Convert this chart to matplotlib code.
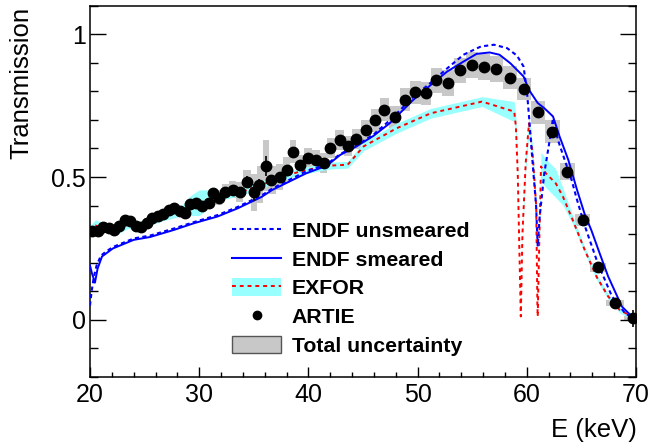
import numpy as np
import matplotlib
matplotlib.use("Agg")
import matplotlib.pyplot as plt
from matplotlib.lines import Line2D
from matplotlib.patches import Patch
from matplotlib.ticker import MultipleLocator

plt.rcParams['font.family'] = ['Liberation Sans', 'DejaVu Sans']

# ---------------- data ----------------
artie_E = [20.2, 20.7, 21.2, 21.7, 22.2, 22.7, 23.2, 23.7, 24.2, 24.7,
           25.2, 25.7, 26.2, 26.7, 27.2, 27.7, 28.2, 28.7, 29.2, 29.7,
           30.3, 30.9, 31.3, 31.8, 32.4, 33.05, 33.7, 34.4, 35.0, 35.5,
           36.1, 36.6, 37.4, 38.0, 38.6, 39.2, 40.0, 40.7, 41.4, 42.0,
           42.85, 43.65, 44.4, 45.3, 46.1, 46.95, 47.9, 48.85, 49.75, 50.8,
           51.7, 52.8, 53.9, 55.0, 56.1, 57.2, 58.5, 59.7, 61.0, 62.3,
           63.7, 65.15, 66.5, 68.07, 69.7]
artie_T = [0.31, 0.31, 0.325, 0.32, 0.315, 0.33, 0.35, 0.345, 0.33, 0.325,
           0.34, 0.355, 0.365, 0.37, 0.385, 0.39, 0.38, 0.375, 0.405, 0.41,
           0.40, 0.408, 0.443, 0.428, 0.449, 0.455, 0.449, 0.484, 0.446, 0.473,
           0.54, 0.49, 0.50, 0.525, 0.588, 0.543, 0.566, 0.56, 0.548, 0.60,
           0.628, 0.607, 0.634, 0.666, 0.699, 0.736, 0.71, 0.77, 0.797, 0.793,
           0.838, 0.83, 0.873, 0.893, 0.884, 0.877, 0.848, 0.808, 0.727, 0.659,
           0.519, 0.35, 0.184, 0.06, 0.005]
artie_stat = [0.008] * 27 + [0.02, 0.03, 0.02, 0.035] + [0.008] * 33 + [0.03]
artie_tot = [0.015] * 20 + [
    0.02, 0.02, 0.02, 0.025, 0.025, 0.03, 0.035, 0.04, 0.065, 0.065,
    0.09, 0.05, 0.047, 0.045, 0.04, 0.035, 0.035, 0.035, 0.035, 0.035,
    0.035, 0.035, 0.035, 0.035, 0.04, 0.04, 0.04, 0.04, 0.04, 0.04,
    0.045, 0.045, 0.045, 0.045, 0.045, 0.045, 0.04, 0.038, 0.04, 0.04,
    0.03, 0.02, 0.015, 0.01, 0.01]

endf_unsm_E = [20.0, 20.15, 20.35, 20.6, 21.0, 21.5, 22.1, 24.0, 25.5, 27.7,
               29.5, 31.7, 33.5, 35.7, 36.7, 39.8, 41.7, 42.9, 44.4, 46.0,
               47.5, 49.6, 51.2, 52.7, 54.2, 55.8, 57.0, 58.2, 59.1, 59.7,
               60.0, 60.25, 60.55, 60.85, 61.0, 61.15, 61.6, 62.1, 62.4, 62.85,
               63.6, 64.1, 64.6, 65.3, 66.5, 67.8, 69.0, 69.8]
endf_unsm_T = [0.05, 0.10, 0.15, 0.19, 0.225, 0.24, 0.255, 0.285, 0.295, 0.32,
               0.342, 0.367, 0.395, 0.435, 0.46, 0.52, 0.545, 0.58, 0.61, 0.65,
               0.70, 0.78, 0.83, 0.88, 0.928, 0.957, 0.963, 0.951, 0.925, 0.887,
               0.805, 0.69, 0.54, 0.40, 0.257, 0.35, 0.513, 0.63, 0.706, 0.63,
               0.545, 0.49, 0.42, 0.33, 0.198, 0.082, 0.023, 0.005]

endf_sm_E = [20.0, 20.2, 20.45, 20.7, 21.1, 22.1, 24.0, 25.5, 27.7, 29.5,
             31.7, 33.5, 35.7, 36.7, 39.8, 41.7, 42.9, 44.4, 46.0, 47.5,
             49.6, 51.2, 52.7, 54.2, 55.4, 56.6, 57.5, 58.5, 59.7, 60.2,
             61.0, 61.6, 62.4, 63.0, 63.8, 64.6, 65.3, 65.9, 66.7, 67.45,
             68.7, 69.8]
endf_sm_T = [0.19, 0.16, 0.13, 0.18, 0.222, 0.25, 0.28, 0.29, 0.315, 0.338,
             0.362, 0.39, 0.43, 0.455, 0.513, 0.54, 0.577, 0.607, 0.645, 0.69,
             0.77, 0.822, 0.869, 0.904, 0.931, 0.936, 0.928, 0.898, 0.852, 0.805,
             0.759, 0.741, 0.712, 0.642, 0.56, 0.455, 0.37, 0.315, 0.23, 0.152,
             0.047, 0.005]

exfor_E = [20.0, 20.5, 21.5, 22.5, 23.5, 24.5, 25.5, 26.5, 27.5, 28.5,
           29.2, 30.0, 31.0, 32.0, 33.0, 34.0, 35.5, 37.6, 39.2, 40.7,
           42.0, 43.6, 45.05, 48.1, 51.2, 55.9, 58.85, 59.0, 59.17, 59.3,
           59.45, 59.6, 59.9, 60.2, 60.55, 60.86, 60.97, 61.0, 61.1, 61.3,
           61.75, 62.65, 63.3, 64.2, 65.3, 66.4, 67.45, 68.5, 69.6]
exfor_T = [0.31, 0.33, 0.32, 0.315, 0.335, 0.33, 0.345, 0.36, 0.37, 0.385,
           0.40, 0.41, 0.425, 0.435, 0.44, 0.45, 0.47, 0.50, 0.519, 0.531,
           0.54, 0.543, 0.607, 0.671, 0.723, 0.764, 0.729, 0.677, 0.513, 0.28,
           0.012, 0.30, 0.55, 0.688, 0.572, 0.397, 0.05, 0.012, 0.2, 0.537,
           0.513, 0.478, 0.432, 0.35, 0.245, 0.15, 0.082, 0.035, 0.012]
exfor_err = [0.02, 0.02, 0.015, 0.015, 0.015, 0.015, 0.015, 0.015, 0.015, 0.02,
             0.035, 0.045, 0.03, 0.015, 0.012, 0.012, 0.012, 0.012, 0.012, 0.012,
             0.012, 0.012, 0.015, 0.017, 0.017, 0.017, 0.035, 0.03, 0.02, 0.01,
             0.005, 0.02, 0.03, 0.03, 0.03, 0.02, 0.01, 0.005, 0.02, 0.05,
             0.05, 0.05, 0.03, 0.015, 0.01, 0.01, 0.01, 0.01, 0.01]

x_ticks = [20, 30, 40, 50, 60, 70]
y_ticks = [0, 0.5, 1]
y_tick_labels = ["0", "0.5", "1"]

# ---------------- figure ----------------
fig = plt.figure(figsize=(6.48, 4.48), dpi=100)
ax = fig.add_axes([90 / 648, 1 - 377 / 448, 546 / 648, 371.4 / 448])

aE = np.array(artie_E)
aT = np.array(artie_T)
aTot = np.array(artie_tot)
mids = (aE[1:] + aE[:-1]) / 2
edges = np.concatenate([[aE[0] - (aE[1] - aE[0]) / 2], mids, [aE[-1] + (aE[-1] - aE[-2]) / 2]])
widths = np.diff(edges)

grey = '#c8c8c8'
cyan = '#99ffff'

ax.bar(edges[:-1], 2 * aTot, bottom=aT - aTot, width=widths, align='edge',
       color=grey, edgecolor='none', zorder=1)

eE = np.array(exfor_E)
eT = np.array(exfor_T)
eErr = np.array(exfor_err)
ax.fill_between(eE, eT - eErr, eT + eErr, color=cyan, linewidth=0, zorder=2)
ax.plot(eE, eT, color='red', lw=1.4, ls=(0, (2, 2)), zorder=3)

ax.plot(endf_unsm_E, endf_unsm_T, color='blue', lw=1.5, ls=(0, (2, 1.6)), zorder=4)
ax.plot(endf_sm_E, endf_sm_T, color='blue', lw=1.4, zorder=4)

ax.errorbar(aE, aT, yerr=artie_stat, fmt='o', color='black', ms=7.5,
            elinewidth=1.2, capsize=0, zorder=5)

ax.set_xlim(20, 70)
ax.set_ylim(-0.2, 1.1)
ax.set_xticks(x_ticks)
ax.set_yticks(y_ticks)
ax.set_yticklabels(y_tick_labels)
ax.xaxis.set_minor_locator(MultipleLocator(2))
ax.yaxis.set_minor_locator(MultipleLocator(0.1))
ax.tick_params(axis='both', which='both', direction='in', labelsize=18, width=1.0)
ax.tick_params(axis='y', which='major', length=11.5, right=True, pad=3)
ax.tick_params(axis='y', which='minor', length=5.8, right=True)
ax.tick_params(axis='x', which='major', length=7.2, pad=4)
ax.tick_params(axis='x', which='minor', length=3.6)
for s in ax.spines.values():
    s.set_linewidth(1.1)

fig.text(21 / 648, 1 - 7 / 448, 'Transmission', rotation=90, ha='center', va='top', fontsize=18.5)
fig.text(637 / 648, 1 - 437 / 448, 'E (keV)', ha='right', va='baseline', fontsize=18.5)

handles = [
    Line2D([], [], color='blue', lw=1.5, ls=(0, (2, 1.6))),
    Line2D([], [], color='blue', lw=1.5),
    (Patch(facecolor=cyan, edgecolor='none'), Line2D([], [], color='red', lw=1.4, ls=(0, (2, 2)))),
    Line2D([], [], ls='none', marker='o', color='black', ms=6),
    Patch(facecolor=grey, edgecolor='#555555', lw=1.0),
]
labels = ['ENDF unsmeared', 'ENDF smeared', 'EXFOR', 'ARTIE', 'Total uncertainty']
fs = 15.3
leg = fig.legend(handles, labels, loc='upper left', bbox_to_anchor=(232 / 648, 1 - 221 / 448),
                 frameon=False, borderpad=0, borderaxespad=0, handlelength=49 / (fs * 100 / 72),
                 handleheight=0.9, handletextpad=0.5, labelspacing=0.4,
                 prop={'family': 'Liberation Sans', 'weight': 'bold', 'size': fs})

fig.savefig('out.png', dpi=100)
